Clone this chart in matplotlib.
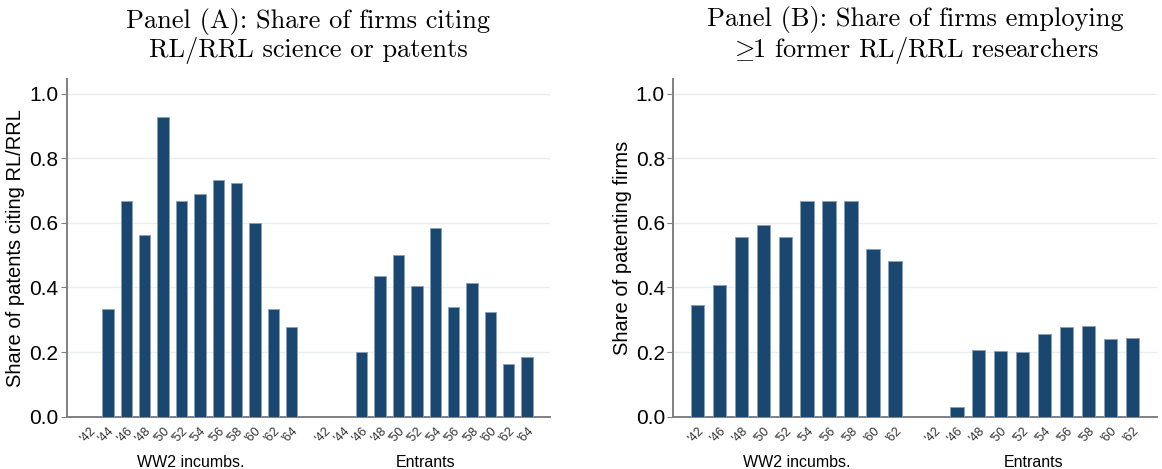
import matplotlib
matplotlib.use("Agg")
import matplotlib.pyplot as plt
import matplotlib.transforms as mtransforms
import numpy as np

plt.rcParams['font.family'] = ['Liberation Sans', 'DejaVu Sans']
plt.rcParams['mathtext.fontset'] = 'cm'

# Panel A: share of patents citing RL/RRL, by cohort year
years_a = ["'42", "'44", "'46", "'48", "'50", "'52", "'54", "'56", "'58", "'60", "'62", "'64"]
incumb_a = [0.0, 0.333, 0.666, 0.562, 0.928, 0.666, 0.688, 0.733, 0.722, 0.599, 0.333, 0.277]
entrant_a = [0.0, 0.0, 0.199, 0.436, 0.499, 0.405, 0.585, 0.339, 0.413, 0.323, 0.162, 0.185]

# Panel B: share of patenting firms employing former RL/RRL researchers
years_b = ["'42", "'46", "'48", "'50", "'52", "'54", "'56", "'58", "'60", "'62"]
incumb_b = [0.345, 0.406, 0.555, 0.592, 0.555, 0.666, 0.666, 0.666, 0.518, 0.481]
entrant_b = [0.0, 0.031, 0.207, 0.202, 0.200, 0.255, 0.277, 0.280, 0.240, 0.242]

groups = ["WW2 incumbs.", "Entrants"]

BAR = '#1a476f'
GRID = '#e6eef0'
SPINE = '#808080'
GAP = 1.8


def draw_panel(ax, years, incumb, entrant, ylabel, title, margin):
    n = len(years)
    x_inc = np.arange(n)
    x_ent = np.arange(n) + (n - 1) + GAP
    ax.bar(x_inc, incumb, width=0.62, color=BAR, edgecolor='#8aa0b4', linewidth=0.6, zorder=3)
    ax.bar(x_ent, entrant, width=0.62, color=BAR, edgecolor='#8aa0b4', linewidth=0.6, zorder=3)

    ax.set_xlim(-margin, x_ent[-1] + margin)
    ax.set_ylim(0, 1.045)
    ticks = np.arange(0, 1.01, 0.2)
    ax.set_yticks(ticks)
    ax.set_yticklabels([f"{v:.1f}" for v in ticks], fontsize=15)
    ax.yaxis.grid(True, color=GRID, linewidth=1.0, zorder=0)

    ax.set_xticks(np.concatenate([x_inc, x_ent]))
    ax.set_xticklabels(years + years, rotation=45, fontsize=9, ha='right',
                       rotation_mode='anchor', color='#333333')
    ax.tick_params(axis='x', length=0, pad=6)
    ax.tick_params(axis='y', length=4, color=SPINE, pad=2)

    for s in ['top', 'right']:
        ax.spines[s].set_visible(False)
    for s in ['left', 'bottom']:
        ax.spines[s].set_color(SPINE)
        ax.spines[s].set_linewidth(1.4)

    ax.set_ylabel(ylabel, fontsize=14.5, labelpad=3)
    ax.set_title(title, family='cmr10', fontsize=19, pad=16, linespacing=1.1)

    trans = mtransforms.blended_transform_factory(ax.transData, ax.transAxes)
    ax.text(x_inc.mean(), -0.135, groups[0], transform=trans, ha='center', va='center', fontsize=11.5)
    ax.text(x_ent.mean(), -0.135, groups[1], transform=trans, ha='center', va='center', fontsize=11.5)


fig = plt.figure(figsize=(11.62, 4.69), dpi=100)
ax1 = fig.add_axes([0.0574, 0.1115, 0.4159, 0.7201])
ax2 = fig.add_axes([0.5794, 0.1115, 0.4160, 0.7201])

draw_panel(ax1, years_a, incumb_a, entrant_a, "Share of patents citing RL/RRL",
           "Panel (A): Share of firms citing\nRL/RRL science or patents", 1.24)
draw_panel(ax2, years_b, incumb_b, entrant_b, "Share of patenting firms",
           "Panel (B): Share of firms employing\n$\\geq\\!\\!$1 former RL/RRL researchers", 1.1)

fig.savefig("out.png", dpi=100)
